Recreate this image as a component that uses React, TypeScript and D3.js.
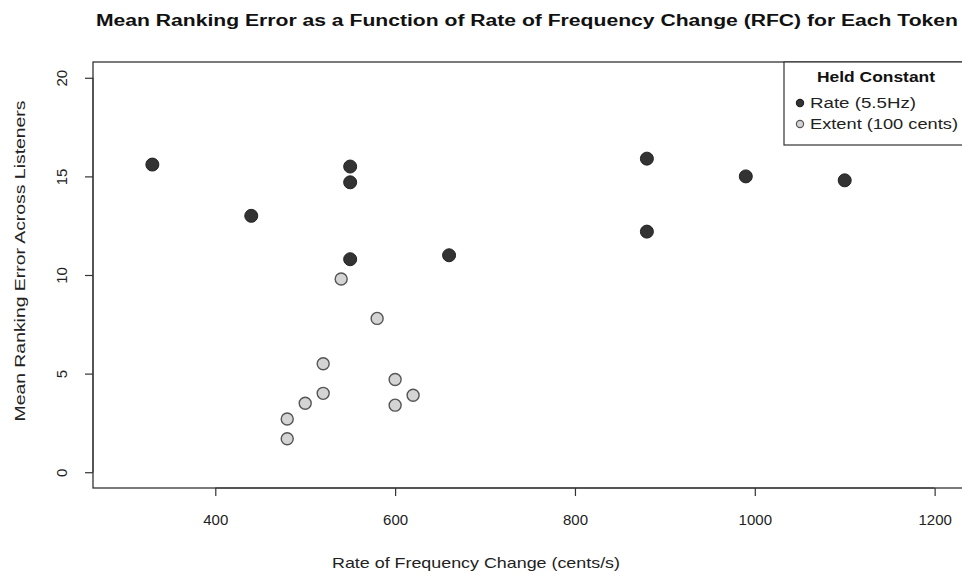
import React, { useEffect, useRef } from "react";
import * as d3 from "d3";

// Rate held constant (5.5Hz)
const rateX = [330, 440, 550, 550, 550, 660, 880, 880, 990, 1100];
const rateY = [15.6, 13.0, 15.5, 14.7, 10.8, 11.0, 15.9, 12.2, 15.0, 14.8];

// Extent held constant (100 cents)
const extentX = [540, 580, 520, 520, 500, 480, 480, 600, 600, 620];
const extentY = [9.8, 7.8, 5.5, 4.0, 3.5, 2.7, 1.7, 4.7, 3.4, 3.9];

const xTicks = [400, 600, 800, 1000, 1200];
const yTicks = [0, 5, 10, 15, 20];

const seriesNames = ["Rate (5.5Hz)", "Extent (100 cents)"];

const App = () => {
  const svg = useRef(null);

  useEffect(() => {
    const root = d3.select(svg.current);
    root.selectAll("*").remove();

    const margin = { top: 62, right: 0, bottom: 86, left: 93 };
    const plotRight = 967;
    const plotBottom = 574 - margin.bottom;

    // R style 4% expansion of xlim c(300,1200), ylim c(0,20)
    const x = d3.scaleLinear().domain([264, 1236]).range([margin.left, plotRight]);
    const y = d3.scaleLinear().domain([-0.8, 20.8]).range([plotBottom, margin.top]);

    const font = "'Liberation Sans', Arial, sans-serif";

    root
      .append("rect")
      .attr("width", 962)
      .attr("height", 574)
      .attr("fill", "#fff");

    // title
    root
      .append("text")
      .attr("x", 527)
      .attr("y", 26)
      .attr("text-anchor", "middle")
      .attr("font-family", font)
      .attr("font-weight", "bold")
      .attr("font-size", 16)
      .attr("textLength", 862)
      .attr("lengthAdjust", "spacingAndGlyphs")
      .attr("fill", "#111")
      .text("Mean Ranking Error as a Function of Rate of Frequency Change (RFC) for Each Token");

    // box
    root
      .append("rect")
      .attr("x", margin.left)
      .attr("y", margin.top)
      .attr("width", plotRight - margin.left)
      .attr("height", plotBottom - margin.top)
      .attr("fill", "none")
      .attr("stroke", "#333")
      .attr("stroke-width", 1.3);

    // x axis
    const xAxis = root.append("g").attr("transform", `translate(0, ${plotBottom})`);
    xAxis.call(
      d3
        .axisBottom(x)
        .tickValues(xTicks)
        .tickFormat(d3.format("d"))
        .tickSize(8)
        .tickPadding(18)
        .tickSizeOuter(0)
    );
    xAxis.select(".domain").attr("stroke", "#333").attr("d", `M${x(400)},0H${x(1200)}`);
    xAxis.selectAll(".tick line").attr("stroke", "#333").attr("stroke-width", 1.2);
    xAxis
      .selectAll(".tick text")
      .attr("font-family", font)
      .attr("font-size", 15)
      .attr("fill", "#222");

    // y axis
    const yAxis = root.append("g").attr("transform", `translate(${margin.left}, 0)`);
    yAxis.call(d3.axisLeft(y).tickValues(yTicks).tickSize(8).tickSizeOuter(0));
    yAxis.select(".domain").attr("stroke", "#333").attr("d", `M0,${y(0)}V${y(20)}`);
    yAxis.selectAll(".tick line").attr("stroke", "#333").attr("stroke-width", 1.2);
    yAxis
      .selectAll(".tick text")
      .attr("font-family", font)
      .attr("font-size", 15)
      .attr("fill", "#222")
      .attr("text-anchor", "middle")
      .attr("x", 0)
      .attr("dy", 0)
      .attr("transform", "translate(-26,0) rotate(-90)")
      .attr("y", 0);

    // axis titles
    root
      .append("text")
      .attr("x", 476)
      .attr("y", 568)
      .attr("text-anchor", "middle")
      .attr("font-family", font)
      .attr("font-size", 15)
      .attr("textLength", 288)
      .attr("lengthAdjust", "spacingAndGlyphs")
      .attr("fill", "#222")
      .text("Rate of Frequency Change (cents/s)");

    root
      .append("text")
      .attr("transform", `translate(25, 261) rotate(-90)`)
      .attr("text-anchor", "middle")
      .attr("font-family", font)
      .attr("font-size", 15)
      .attr("textLength", 321)
      .attr("lengthAdjust", "spacingAndGlyphs")
      .attr("fill", "#222")
      .text("Mean Ranking Error Across Listeners");

    // points
    const pts = root.append("g");
    pts
      .selectAll("circle.rate")
      .data(d3.zip(rateX, rateY))
      .join("circle")
      .attr("class", "rate")
      .attr("cx", (d) => x(d[0]))
      .attr("cy", (d) => y(d[1]))
      .attr("r", 6.5)
      .attr("fill", "#333")
      .attr("stroke", "#222")
      .attr("stroke-width", 1);

    pts
      .selectAll("circle.extent")
      .data(d3.zip(extentX, extentY))
      .join("circle")
      .attr("class", "extent")
      .attr("cx", (d) => x(d[0]))
      .attr("cy", (d) => y(d[1]))
      .attr("r", 6)
      .attr("fill", "#d4d4d4")
      .attr("stroke", "#555")
      .attr("stroke-width", 1.4);

    // legend
    const lg = root.append("g");
    lg.append("rect")
      .attr("x", 784)
      .attr("y", margin.top)
      .attr("width", plotRight - 784)
      .attr("height", 83)
      .attr("fill", "#fff")
      .attr("stroke", "#333")
      .attr("stroke-width", 1.2);
    lg.append("text")
      .attr("x", 876)
      .attr("y", 82)
      .attr("text-anchor", "middle")
      .attr("font-family", font)
      .attr("font-weight", "bold")
      .attr("font-size", 14)
      .attr("textLength", 118)
      .attr("lengthAdjust", "spacingAndGlyphs")
      .attr("fill", "#111")
      .text("Held Constant");

    const rows = lg
      .selectAll("g.row")
      .data(seriesNames)
      .join("g")
      .attr("class", "row")
      .attr("transform", (d, i) => `translate(0, ${103 + i * 21})`);
    rows
      .append("circle")
      .attr("cx", 800)
      .attr("cy", 0)
      .attr("r", 3.6)
      .attr("fill", (d, i) => (i === 0 ? "#333" : "#d4d4d4"))
      .attr("stroke", (d, i) => (i === 0 ? "#222" : "#555"))
      .attr("stroke-width", 1.2);
    rows
      .append("text")
      .attr("x", 810)
      .attr("y", 5)
      .attr("font-family", font)
      .attr("font-size", 14)
      .attr("textLength", (d, i) => (i === 0 ? 106 : 148))
      .attr("lengthAdjust", "spacingAndGlyphs")
      .attr("fill", "#222")
      .text((d) => d);
  }, []);

  return (
    <svg
      ref={svg}
      width={962}
      height={574}
      style={{ position: "absolute", left: 0, top: 0 }}
    />
  );
};

export default App;
